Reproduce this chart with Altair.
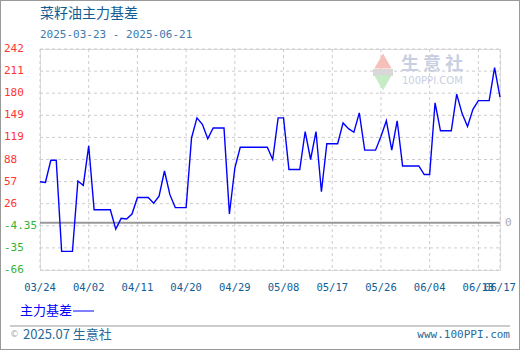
import altair as alt
import pandas as pd

# ---------------- data ----------------
title_text = "菜籽油主力基差"
subtitle_text = "2025-03-23 - 2025-06-21"
legend_text = "主力基差"
footer_left = "2025.07 生意社"
footer_right = "www.100PPI.com"

dates = [
    "2025-03-24", "2025-03-25", "2025-03-26", "2025-03-27", "2025-03-28", "2025-03-29", "2025-03-30", "2025-03-31",
    "2025-04-01", "2025-04-02", "2025-04-03", "2025-04-04", "2025-04-05", "2025-04-06", "2025-04-07", "2025-04-08",
    "2025-04-09", "2025-04-10", "2025-04-11", "2025-04-12", "2025-04-13", "2025-04-14", "2025-04-15", "2025-04-16",
    "2025-04-17", "2025-04-18", "2025-04-19", "2025-04-20", "2025-04-21", "2025-04-22", "2025-04-23", "2025-04-24",
    "2025-04-25", "2025-04-26", "2025-04-27", "2025-04-28", "2025-04-29", "2025-04-30",
    "2025-05-01", "2025-05-02", "2025-05-03", "2025-05-04", "2025-05-05", "2025-05-06", "2025-05-07", "2025-05-08",
    "2025-05-09", "2025-05-10", "2025-05-11", "2025-05-12", "2025-05-13", "2025-05-14", "2025-05-15", "2025-05-16",
    "2025-05-17", "2025-05-18", "2025-05-19", "2025-05-20", "2025-05-21", "2025-05-22", "2025-05-23", "2025-05-24",
    "2025-05-25", "2025-05-26", "2025-05-27", "2025-05-28", "2025-05-29", "2025-05-30", "2025-05-31",
    "2025-06-01", "2025-06-02", "2025-06-03", "2025-06-04", "2025-06-05", "2025-06-06", "2025-06-07", "2025-06-08",
    "2025-06-09", "2025-06-10", "2025-06-11", "2025-06-12", "2025-06-13", "2025-06-14", "2025-06-15", "2025-06-16",
    "2025-06-17",
]
basis = [
    57, 56, 87, 87, -40, -40, -40, 58,
    52, 107, 18, 18, 18, 18, -9, 6, 5, 12, 35, 35, 35, 27, 37, 72, 39, 21, 21, 21, 118, 146,
    137, 117, 132, 132, 132, 12, 76, 105,
    105, 105, 105, 105, 105, 88, 146, 146, 74, 74, 74, 127, 88, 127, 43, 110, 110, 110, 139,
    131, 126, 153, 101, 101, 101, 120, 142, 101, 142, 79, 79,
    79, 79, 67, 67, 167, 128, 128, 128, 179, 152, 134, 158, 170, 170, 170, 216, 175,
]

y_tick_values = [242, 211.2, 180.4, 149.6, 118.8, 88, 57.2, 26.4, -4.4, -35.2, -66]
y_tick_labels = ["242", "211", "180", "149", "119", "88", "57", "26", "-4.35", "-35", "-66"]

x_tick_dates = ["2025-03-24", "2025-04-02", "2025-04-11", "2025-04-20", "2025-04-29", "2025-05-08",
                "2025-05-17", "2025-05-26", "2025-06-04", "2025-06-13", "2025-06-17"]
x_tick_labels = ["03/24", "04/02", "04/11", "04/20", "04/29", "05/08",
                 "05/17", "05/26", "06/04", "06/13", "06/17"]

zero_line = [0]

# ---------------- layout ----------------
W, H = 460, 221
MONO = "DejaVu Sans Mono"
CJK = "Noto Sans CJK SC"

line_df = pd.DataFrame({"date": dates, "value": basis})
ytick_df = pd.DataFrame({"value": y_tick_values, "label": y_tick_labels})
xtick_df = pd.DataFrame({"date": x_tick_dates, "label": x_tick_labels})
zero_df = pd.DataFrame({"value": zero_line, "label": [str(v) for v in zero_line]})

x_scale = alt.Scale(
    type="utc",
    nice=False,
    domain=[alt.DateTime(year=2025, month=3, date=24, utc=True),
            alt.DateTime(year=2025, month=6, date=17, utc=True)],
)
y_scale = alt.Scale(domain=[-66, 242], nice=False, zero=False)

X = alt.X("date:T", scale=x_scale, axis=None)
Y = alt.Y("value:Q", scale=y_scale, axis=None)

hgrid = alt.Chart(ytick_df).mark_rule(color="#cccccc", strokeDash=[3, 3], strokeWidth=1).encode(
    y=Y, x=alt.value(0), x2=alt.value(W)
)
vgrid = alt.Chart(xtick_df).mark_rule(color="#cccccc", strokeDash=[3, 3], strokeWidth=1).encode(
    x=X, y=alt.value(0), y2=alt.value(H)
)
zero_rule = alt.Chart(zero_df).mark_rule(color="#999999", strokeWidth=2).encode(
    y=Y, x=alt.value(0), x2=alt.value(W)
)
zero_lbl = alt.Chart(zero_df).mark_text(
    align="left", baseline="middle", font=MONO, fontSize=11, color="#aaaaaa"
).encode(y=Y, x=alt.value(W + 5), text="label:N")

line = alt.Chart(line_df).mark_line(color="#0000ff", strokeWidth=1.4).encode(x=X, y=Y)

ylabels = alt.Chart(ytick_df).mark_text(
    align="left", baseline="middle", font=MONO, fontSize=11
).encode(
    y=Y,
    x=alt.value(-36),
    text="label:N",
    color=alt.condition("datum.value < 0", alt.value("#33b333"), alt.value("#ff3333")),
)
xlabels = alt.Chart(xtick_df).mark_text(
    align="center", baseline="middle", font=MONO, fontSize=10.5, color="#0f5d94"
).encode(x=X, y=alt.value(H + 18), text="label:N")


def label(txt, x, y, **kw):
    return alt.Chart(pd.DataFrame({"t": [txt]})).mark_text(**kw).encode(
        text="t:N", x=alt.value(x), y=alt.value(y)
    )


title = label(title_text, 0, -35, align="left", baseline="middle", font=CJK, fontSize=14, color="#125c94")
subtitle = label(subtitle_text, 0, -14, align="left", baseline="middle", font=MONO, fontSize=11, color="#3d7ab0")

# watermark
wm_up = alt.Chart(pd.DataFrame({"t": [1]})).mark_point(
    shape="triangle-up", filled=True, color="#f6c0ba", size=300, opacity=1
).encode(x=alt.value(343), y=alt.value(12))
wm_band = alt.Chart(pd.DataFrame({"t": [1]})).mark_rect(color="#d8d8d8").encode(
    x=alt.value(333), x2=alt.value(353), y=alt.value(20), y2=alt.value(27)
)
wm_down = alt.Chart(pd.DataFrame({"t": [1]})).mark_point(
    shape="triangle-down", filled=True, color="#c6ecc6", size=300, opacity=1
).encode(x=alt.value(343), y=alt.value(34))
wm_text = label("生 意 社", 361, 16, align="left", baseline="middle", font=CJK, fontSize=18,
                color="#c9cfe2", fontWeight="bold")
wm_text2 = label("100PPI.COM", 362, 32, align="left", baseline="middle", font="DejaVu Sans",
                 fontSize=10, color="#c9cfe2")

legend_lbl = label(legend_text, -20, 262, align="left", baseline="middle", font=CJK, fontSize=13, color="#0000ff")
legend_line = alt.Chart(pd.DataFrame({"t": [1]})).mark_rule(color="#0000ff", strokeWidth=1).encode(
    x=alt.value(33), x2=alt.value(54), y=alt.value(262)
)

sep = alt.Chart(pd.DataFrame({"t": [1]})).mark_rule(color="#999999", strokeWidth=1).encode(
    x=alt.value(-30), x2=alt.value(470), y=alt.value(277)
)
copy_sym = label("©", -30, 285, align="left", baseline="middle", font="DejaVu Sans", fontSize=9, color="#9aa8b8")
foot_l = label(footer_left, -17, 286, align="left", baseline="middle", font=CJK, fontSize=13, color="#2a6a9a")
foot_r = label(footer_right, 470, 286, align="right", baseline="middle", font=MONO, fontSize=11, color="#2a6a9a")

frame = alt.Chart(pd.DataFrame({"t": [1]})).mark_rect(fill=None, stroke="#999999", strokeWidth=2).encode(
    x=alt.value(-40), x2=alt.value(480), y=alt.value(-49), y2=alt.value(301)
)

chart = alt.layer(
    hgrid, vgrid, zero_rule, wm_up, wm_band, wm_down, wm_text, wm_text2, line, zero_lbl,
    ylabels, xlabels, title, subtitle, legend_lbl, legend_line, sep, copy_sym, foot_l, foot_r, frame,
).properties(
    width=W,
    height=H,
    autosize=alt.AutoSizeParams(type="none"),
    padding={"left": 40, "top": 49, "right": 20, "bottom": 80},
).configure_view(stroke="#999999", strokeWidth=1).configure(background="white")

chart.save("out.html", embed_options={"renderer": "svg", "actions": False})
